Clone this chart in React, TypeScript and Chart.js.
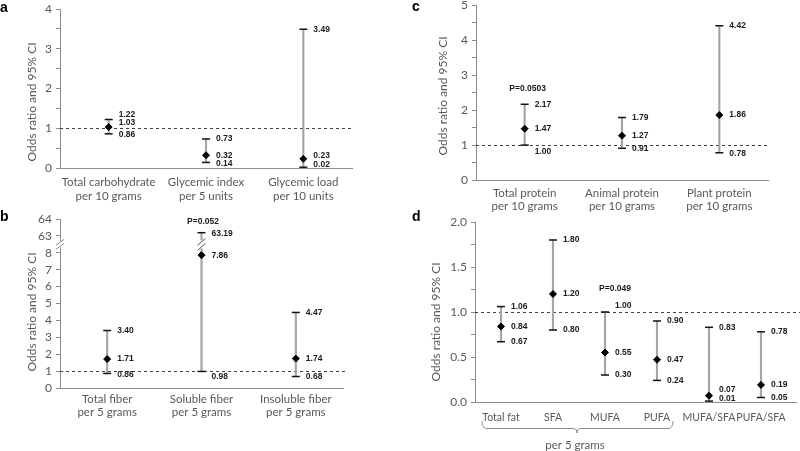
import React, { useEffect, useRef } from "react";
import { Chart, registerables } from "chart.js";
Chart.register(...registerables);

// ---------------- data ----------------
const yTitle = "Odds ratio and 95% CI";

const carbCategories = [["Total carbohydrate", "per 10 grams"], ["Glycemic index", "per 5 units"], ["Glycemic load", "per 10 units"]];
const carbOR = [1.03, 0.32, 0.23];
const carbLow = [0.86, 0.14, 0.02];
const carbHigh = [1.22, 0.73, 3.49];

const fiberCategories = [["Total fiber", "per 5 grams"], ["Soluble fiber", "per 5 grams"], ["Insoluble fiber", "per 5 grams"]];
const fiberOR = [1.71, 7.86, 1.74];
const fiberLow = [0.86, 0.98, 0.68];
const fiberHigh = [3.4, 63.19, 4.47];
const fiberTickLabels = ["0", "1", "2", "3", "4", "5", "6", "7", "8", "63", "64"];
const fiberBreakBelow = 8;
const fiberBreakAbove = 63;
const fiberPNote = "P=0.052";

const proteinCategories = [["Total protein", "per 10 grams"], ["Animal protein", "per 10 grams"], ["Plant protein", "per 10 grams"]];
const proteinOR = [1.47, 1.27, 1.86];
const proteinLow = [1.0, 0.91, 0.78];
const proteinHigh = [2.17, 1.79, 4.42];
const proteinPNote = "P=0.0503";

const fatCategories = ["Total fat", "SFA", "MUFA", "PUFA", "MUFA/SFA", "PUFA/SFA"];
const fatOR = [0.84, 1.2, 0.55, 0.47, 0.07, 0.19];
const fatLow = [0.67, 0.8, 0.3, 0.24, 0.01, 0.05];
const fatHigh = [1.06, 1.8, 1.0, 0.9, 0.83, 0.78];
const fatPNote = "P=0.049";
const fatGroupLabel = "per 5 grams";

// ---------------- style ----------------
const FONT = "Lato, 'Open Sans', sans-serif";
const LABEL_FONT = "bold 8.5px 'Liberation Sans', Arial, sans-serif";
const AXIS_TEXT = "#595959";
const AXIS_LINE = "#8c8c8c";
const BAR_COLOR = "#a6a6a6";

const identity = (v: number) => v;
const fiberToAxis = (v: number) => (v > fiberBreakBelow ? v - (fiberBreakAbove - fiberBreakBelow - 1) : v);

type Nudge = { high?: number[]; or?: number[]; low?: number[] };
interface PanelCfg {
  letter: string;
  left: number; top: number; width: number; height: number;
  categories: (string | string[])[];
  or: number[]; low: number[]; high: number[];
  toAxis: (v: number) => number;
  yMax: number; yStep: number;
  tickLabel: (v: number, i: number) => string;
  yAxisWidth: number; xAxisHeight: number; padTop: number; padRight: number;
  xLabelPad: number; xFontSize: number;
  titleX: number; titleY: number;
  letterX: number; letterY: number;
  refExtend: number; axisExtend: number;
  nudges: Nudge;
  note?: { text: string; index: number; dx: number; dy: number };
  breakAt?: { value: number; index: number };
  brace?: { from: number; to: number; text: string };
}

const panels: PanelCfg[] = [
  {
    letter: "a", left: 0, top: 0, width: 400, height: 210,
    categories: carbCategories, or: carbOR, low: carbLow, high: carbHigh, toAxis: identity,
    yMax: 4, yStep: 0.5, tickLabel: (v) => (Math.abs(v - Math.round(v)) < 1e-6 ? String(Math.round(v)) : ""),
    yAxisWidth: 60, xAxisHeight: 42, padTop: 9, padRight: 48, xLabelPad: 7.5, xFontSize: 11.5,
    titleX: 32, titleY: 102, letterX: 0, letterY: 8, refExtend: 0, axisExtend: 0,
    nudges: { high: [-4.5, 0, 0], or: [-4, 0, -3], low: [0.5, 1, -3] },
  },
  {
    letter: "b", left: 0, top: 210, width: 400, height: 241,
    categories: fiberCategories, or: fiberOR, low: fiberLow, high: fiberHigh, toAxis: fiberToAxis,
    yMax: 10, yStep: 1, tickLabel: (_v, i) => fiberTickLabels[i] ?? "",
    yAxisWidth: 60, xAxisHeight: 63, padTop: 9, padRight: 57, xLabelPad: 4, xFontSize: 11.5,
    titleX: 32, titleY: 102, letterX: 0, letterY: 7, refExtend: 5, axisExtend: 0,
    nudges: { high: [0, 1, 0], or: [0, 0, 0], low: [1.5, 5, 0.5] },
    note: { text: fiberPNote, index: 1, dx: 1.5, dy: -11.5 },
    breakAt: { value: 8.5, index: 1 },
  },
  {
    letter: "c", left: 400, top: 0, width: 400, height: 215,
    categories: proteinCategories, or: proteinOR, low: proteinLow, high: proteinHigh, toAxis: identity,
    yMax: 5, yStep: 0.5, tickLabel: (v) => (Math.abs(v - Math.round(v)) < 1e-6 ? String(Math.round(v)) : ""),
    yAxisWidth: 76, xAxisHeight: 35, padTop: 5, padRight: 32, xLabelPad: 6, xFontSize: 11.5,
    titleX: 43, titleY: 96, letterX: 12, letterY: 7, refExtend: 0, axisExtend: 0,
    nudges: { high: [0, 0, 0], or: [0, 0, 0], low: [6.5, 0, 1] },
    note: { text: proteinPNote, index: 0, dx: 3, dy: -16 },
  },
  {
    letter: "d", left: 400, top: 210, width: 400, height: 241,
    categories: fatCategories, or: fatOR, low: fatLow, high: fatHigh, toAxis: identity,
    yMax: 2, yStep: 0.25, tickLabel: (v) => (Math.abs(v * 2 - Math.round(v * 2)) < 1e-6 ? v.toFixed(1) : ""),
    yAxisWidth: 75, xAxisHeight: 49, padTop: 12, padRight: 13, xLabelPad: 9.5, xFontSize: 10.5,
    titleX: 36, titleY: 112, letterX: 12, letterY: 7, refExtend: 13, axisExtend: 10,
    nudges: { high: [0, 0, -6.5, 0, 0, 0], or: [0, 0, 0, 0, -5.7, 0], low: [0, 0, 0, 0, -2.3, 0] },
    note: { text: fatPNote, index: 2, dx: 10, dy: -23 },
    brace: { from: 0, to: 3, text: fatGroupLabel },
  },
];

function makeOverlay(p: PanelCfg) {
  return {
    id: "overlay_" + p.letter,
    beforeDatasetsDraw(chart: any) {
      const { ctx, chartArea, scales } = chart;
      const y = Math.round(scales.y.getPixelForValue(p.toAxis(1))) + 0.5;
      ctx.save();
      ctx.strokeStyle = "#404040";
      ctx.lineWidth = 1;
      ctx.setLineDash([3, 3]);
      ctx.beginPath();
      ctx.moveTo(chartArea.left, y);
      ctx.lineTo(chartArea.right + p.refExtend, y);
      ctx.stroke();
      ctx.restore();
    },
    afterDatasetsDraw(chart: any) {
      const { ctx, scales } = chart;
      const xs = scales.x, ys = scales.y;
      ctx.save();
      // break on error bar
      if (p.breakAt) {
        const bx = xs.getPixelForValue(p.breakAt.index);
        const by = ys.getPixelForValue(p.breakAt.value);
        ctx.fillStyle = "#ffffff";
        ctx.fillRect(bx - 3, by - 4, 6, 8);
        ctx.strokeStyle = "#595959";
        ctx.lineWidth = 1;
        for (const k of [-2.5, 2.5]) {
          ctx.beginPath();
          ctx.moveTo(bx - 4, by + k + 3.5);
          ctx.lineTo(bx + 4, by + k - 3.5);
          ctx.stroke();
        }
      }
      // value labels
      ctx.font = LABEL_FONT;
      ctx.fillStyle = "#1a1a1a";
      ctx.textAlign = "left";
      ctx.textBaseline = "middle";
      p.or.forEach((v, i) => {
        const x = xs.getPixelForValue(i) + 10;
        const items: [number, number][] = [
          [p.high[i], p.nudges.high?.[i] ?? 0],
          [v, p.nudges.or?.[i] ?? 0],
          [p.low[i], p.nudges.low?.[i] ?? 0],
        ];
        items.forEach(([val, dy]) => {
          ctx.fillText(val.toFixed(2), x, ys.getPixelForValue(p.toAxis(val)) + dy);
        });
      });
      if (p.note) {
        const n = p.note;
        ctx.textAlign = "center";
        ctx.fillText(n.text, xs.getPixelForValue(n.index) + n.dx, ys.getPixelForValue(p.toAxis(p.high[n.index])) + n.dy);
      }
      ctx.restore();
    },
    afterDraw(chart: any) {
      const { ctx, chartArea, scales } = chart;
      ctx.save();
      // panel letter
      ctx.font = "bold 14px Arial, 'Liberation Sans', sans-serif";
      ctx.fillStyle = "#000";
      ctx.textAlign = "left";
      ctx.textBaseline = "middle";
      ctx.fillText(p.letter, p.letterX, p.letterY);
      // y title
      ctx.save();
      ctx.translate(p.titleX, p.titleY);
      ctx.rotate(-Math.PI / 2);
      ctx.font = "12px " + FONT;
      ctx.fillStyle = AXIS_TEXT;
      ctx.textAlign = "center";
      ctx.fillText(yTitle, 0, 0);
      ctx.restore();
      // x axis extension
      if (p.axisExtend) {
        ctx.strokeStyle = AXIS_LINE;
        ctx.lineWidth = 1;
        const yb = Math.round(chartArea.bottom) + 0.5;
        ctx.beginPath();
        ctx.moveTo(chartArea.right, yb);
        ctx.lineTo(chartArea.right + p.axisExtend, yb);
        ctx.stroke();
      }
      // axis break
      if (p.breakAt) {
        const ax = chartArea.left;
        const ay = scales.y.getPixelForValue(p.breakAt.value);
        ctx.fillStyle = "#ffffff";
        ctx.fillRect(ax - 2, ay - 3, 4, 6);
        ctx.strokeStyle = AXIS_LINE;
        ctx.lineWidth = 1;
        for (const k of [-2, 2]) {
          ctx.beginPath();
          ctx.moveTo(ax - 4, ay + k + 3);
          ctx.lineTo(ax + 4, ay + k - 3);
          ctx.stroke();
        }
      }
      // brace for grouped categories
      if (p.brace) {
        const xs = scales.x;
        const xL = xs.getPixelForValue(p.brace.from) - 19;
        const xR = xs.getPixelForValue(p.brace.to) + 16;
        const xM = (xs.getPixelForValue(p.brace.from) + xs.getPixelForValue(p.brace.to)) / 2 - 2;
        const b = chartArea.bottom;
        const yTop = b + 19, yLine = b + 26.5, yTip = b + 31;
        ctx.strokeStyle = "#8c8c8c";
        ctx.lineWidth = 1;
        ctx.beginPath();
        ctx.moveTo(xL, yTop);
        ctx.quadraticCurveTo(xL, yLine, xL + 5, yLine);
        ctx.lineTo(xM - 4, yLine);
        ctx.quadraticCurveTo(xM, yLine, xM, yTip);
        ctx.quadraticCurveTo(xM, yLine, xM + 4, yLine);
        ctx.lineTo(xR - 5, yLine);
        ctx.quadraticCurveTo(xR, yLine, xR, yTop);
        ctx.stroke();
        ctx.font = "11.5px " + FONT;
        ctx.fillStyle = AXIS_TEXT;
        ctx.textAlign = "center";
        ctx.textBaseline = "alphabetic";
        ctx.fillText(p.brace.text, xM - 2, b + 46.5);
      }
      ctx.restore();
    },
  };
}

function Panel({ p }: { p: PanelCfg }) {
  const ref = useRef<HTMLCanvasElement>(null);
  useEffect(() => {
    if (!ref.current) return;
    const chart = new Chart(ref.current, {
      type: "bar",
      data: {
        labels: p.categories as any,
        datasets: [
          {
            type: "bar",
            data: p.low.map((l, i) => [p.toAxis(l), p.toAxis(p.high[i])]) as any,
            backgroundColor: BAR_COLOR,
            borderWidth: 0,
            barThickness: 1.5,
            order: 3,
          } as any,
          {
            type: "line",
            data: p.low.map(p.toAxis),
            showLine: false,
            pointStyle: "line",
            pointRadius: 4,
            pointBorderWidth: 1.5,
            pointBorderColor: "#111",
            pointBackgroundColor: "#111",
            clip: false,
            order: 2,
          } as any,
          {
            type: "line",
            data: p.high.map(p.toAxis),
            showLine: false,
            pointStyle: "line",
            pointRadius: 4,
            pointBorderWidth: 1.5,
            pointBorderColor: "#111",
            pointBackgroundColor: "#111",
            clip: false,
            order: 2,
          } as any,
          {
            type: "line",
            data: p.or.map(p.toAxis),
            showLine: false,
            pointStyle: "rectRot",
            pointRadius: 3.5,
            pointBorderWidth: 1,
            pointBorderColor: "#000",
            pointBackgroundColor: "#000",
            clip: false,
            order: 1,
          } as any,
        ],
      },
      options: {
        responsive: false,
        animation: false,
        devicePixelRatio: 1,
        events: [],
        layout: { padding: { left: 0, top: p.padTop, right: p.padRight, bottom: 0 } },
        plugins: { legend: { display: false }, tooltip: { enabled: false } },
        scales: {
          x: {
            type: "category",
            offset: true,
            grid: { display: false, drawTicks: false },
            border: { display: true, color: AXIS_LINE, width: 1 },
            ticks: {
              color: AXIS_TEXT,
              font: { family: FONT, size: p.xFontSize, lineHeight: 1.2 },
              padding: p.xLabelPad,
              maxRotation: 0,
              minRotation: 0,
              autoSkip: false,
            },
            afterFit: (s: any) => {
              s.height = p.xAxisHeight;
              s.paddingLeft = 0;
              s.paddingRight = 0;
            },
          },
          y: {
            type: "linear",
            min: 0,
            max: p.yMax,
            grid: { display: true, drawOnChartArea: false, drawTicks: true, tickLength: 4, color: AXIS_LINE },
            border: { display: true, color: AXIS_LINE, width: 1 },
            ticks: {
              stepSize: p.yStep,
              autoSkip: false,
              color: AXIS_TEXT,
              font: { family: FONT, size: 12 },
              padding: 4,
              callback: (v: any, i: number) => p.tickLabel(Number(v), i),
            },
            afterFit: (s: any) => {
              s.width = p.yAxisWidth;
              s.paddingTop = 0;
              s.paddingBottom = 0;
            },
          },
        },
      } as any,
      plugins: [makeOverlay(p)],
    });
    return () => chart.destroy();
  }, [p]);
  return (
    <canvas
      ref={ref}
      width={p.width}
      height={p.height}
      style={{ position: "absolute", left: p.left, top: p.top, width: p.width, height: p.height }}
    />
  );
}

export default function App() {
  return (
    <div style={{ position: "fixed", left: 0, top: 0, width: 800, height: 451, background: "#fff", overflow: "hidden" }}>
      {panels.map((p) => (
        <Panel key={p.letter} p={p} />
      ))}
    </div>
  );
}
